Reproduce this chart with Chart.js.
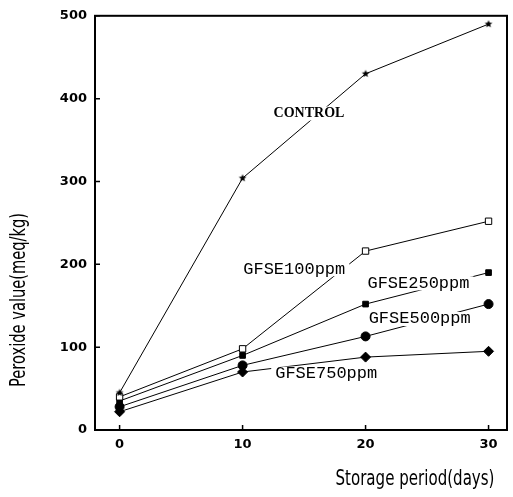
<!DOCTYPE html>
<html>
<head>
<meta charset="utf-8">
<script src="https://cdn.jsdelivr.net/npm/chart.js@4/dist/chart.umd.min.js"></script>
<style>
  html, body { margin: 0; padding: 0; background: #fff; }
  #wrap { width: 513px; height: 497px; }
</style>
</head>
<body>
<div id="wrap"><canvas id="PV_Plot" width="513" height="497"></canvas></div>
<script>

// Data
const days = [0, 10, 20, 30];
const control = [45, 304, 430, 490];
const gfse100 = [40, 98, 216, 252];
const gfse250 = [35, 90, 152, 190];
const gfse500 = [28, 78, 113, 152];
const gfse750 = [22, 70, 88, 95];

const x_ticks = [0, 10, 20, 30];
const y_ticks = [0, 100, 200, 300, 400, 500];

// In-plot series labels (anchored in data units)
const label_names = ["CONTROL", "GFSE100ppm", "GFSE250ppm", "GFSE500ppm", "GFSE750ppm"];
const label_days = [15.4, 14.2, 24.3, 24.4, 16.8];
const label_values = [382, 194, 177, 134, 68];

const x_title = "Storage period(days)";
const y_title = "Peroxide value(meq/kg)";

// filled star marker
function makeStar(r) {
	const c = document.createElement("canvas");
	c.width = c.height = r * 2 + 2;
	const g = c.getContext("2d");
	g.fillStyle = "#000";
	g.beginPath();
	for (let i = 0; i < 10; i++) {
		const rr = (i % 2 === 0) ? r : r * 0.45;
		const a = -Math.PI / 2 + i * Math.PI / 5;
		g.lineTo(r + 1 + rr * Math.cos(a), r + 1 + rr * Math.sin(a));
	}
	g.closePath();
	g.fill();
	return c;
}

function pts(ys) {
	return days.map((d, i) => ({ x: d, y: ys[i] }));
}

function series(ys, style, radius, filled) {
	return {
		data: pts(ys),
		fill: false,
		lineTension: 0,
		borderColor: "#000",
		borderWidth: 1,
		pointStyle: style,
		pointRadius: radius,
		pointBorderColor: "#000",
		pointBorderWidth: 1,
		pointBackgroundColor: filled ? "#000" : "#fff",
		showLine: true,
	};
}

// series labels on a white patch, so the lines break round them
const seriesLabels = {
	id: "seriesLabels",
	afterDatasetsDraw(chart) {
		const ctx = chart.ctx;
		const xs = chart.scales.x, ys = chart.scales.y;
		ctx.save();
		ctx.textBaseline = "middle";
		ctx.textAlign = "center";
		label_names.forEach((t, i) => {
			ctx.font = (i === 0) ? "bold 14px 'Liberation Serif'" : "17px 'Liberation Mono'";
			const px = xs.getPixelForValue(label_days[i]);
			const py = ys.getPixelForValue(label_values[i]);
			const w = ctx.measureText(t).width;
			ctx.fillStyle = "#fff";
			ctx.fillRect(px - w / 2 - 4, py - 7, w + 8, 14);
			ctx.fillStyle = "#000";
			ctx.fillText(t, px, py);
		});
		ctx.restore();
	}
};

// frame, inward ticks, axis titles
const decorations = {
	id: "decorations",
	afterDraw(chart) {
		const ctx = chart.ctx;
		const a = chart.chartArea;
		const xs = chart.scales.x, ys = chart.scales.y;
		ctx.save();
		ctx.strokeStyle = "#000";
		ctx.lineWidth = 2;
		ctx.strokeRect(a.left, a.top, a.right - a.left, a.bottom - a.top);

		ctx.lineWidth = 1.5;
		ctx.beginPath();
		x_ticks.forEach(v => {
			const px = xs.getPixelForValue(v);
			ctx.moveTo(px, a.bottom);
			ctx.lineTo(px, a.bottom - 5);
		});
		y_ticks.forEach(v => {
			const py = ys.getPixelForValue(v);
			ctx.moveTo(a.left, py);
			ctx.lineTo(a.left + 5, py);
		});
		ctx.stroke();

		// condensed axis titles
		ctx.fillStyle = "#000";
		ctx.textBaseline = "middle";
		ctx.textAlign = "center";
		ctx.font = "21px 'DejaVu Sans'";
		let w = ctx.measureText(x_title).width;
		ctx.save();
		ctx.translate(415, 480);
		ctx.scale(159 / w, 1);
		ctx.fillText(x_title, 0, 0);
		ctx.restore();

		w = ctx.measureText(y_title).width;
		ctx.save();
		ctx.translate(20, 300);
		ctx.rotate(-Math.PI / 2);
		ctx.scale(174 / w, 1);
		ctx.fillText(y_title, 0, 0);
		ctx.restore();
		ctx.restore();
	}
};

const pv_plot = document.getElementById("PV_Plot").getContext("2d");

var PV_Plot_Obj = new Chart(pv_plot, {
	type: "scatter",
	data: {
		datasets: [
			series(control, makeStar(4), 4, true),
			series(gfse100, "rect", 4.5, false),
			series(gfse250, "rect", 4, true),
			series(gfse500, "circle", 4.5, true),
			series(gfse750, "rectRot", 5, true),
		]
	},
	options: {
		responsive: false,
		animation: false,
		layout: { padding: { top: 15, right: 3, left: 0, bottom: 0 } },
		plugins: {
			legend: { display: false },
			tooltip: { enabled: false },
		},
		scales: {
			x: {
				type: "linear",
				min: -2,
				max: 31.5,
				afterBuildTicks: s => { s.ticks = x_ticks.map(v => ({ value: v })); },
				afterFit: s => { s.height = 67; },
				grid: { display: false, drawTicks: false },
				border: { display: false },
				ticks: {
					color: "#000",
					padding: 7,
					font: { family: "DejaVu Sans", weight: "bold", size: 13 },
				},
			},
			y: {
				type: "linear",
				min: 0,
				max: 500,
				afterBuildTicks: s => { s.ticks = y_ticks.map(v => ({ value: v })); },
				afterFit: s => { s.width = 95; },
				grid: { display: false, drawTicks: false },
				border: { display: false },
				ticks: {
					color: "#000",
					padding: 8,
					font: { family: "DejaVu Sans", weight: "bold", size: 13 },
				},
			}
		},
		events: [],
	},
	plugins: [seriesLabels, decorations],
});
</script>
</body>
</html>
